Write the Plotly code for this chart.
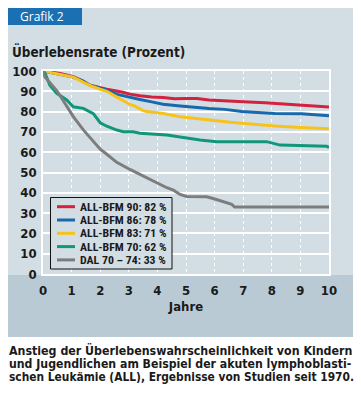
import plotly.graph_objects as go

# ---- data ----
years_bfm90 = [0, 0.3, 0.6, 1.06, 1.4, 1.64, 2.0, 2.23, 2.8, 3.04, 3.39, 3.8, 4.2, 4.6, 5.0, 5.38, 5.8, 6.36, 6.54, 7.0, 7.76, 8.4, 9.04, 9.5, 10]
surv_bfm90 = [100, 99.5, 98.8, 97.2, 95, 93, 91.8, 91, 89.5, 88.6, 87.8, 87.2, 87, 86.3, 86.5, 86.5, 85.7, 85.2, 84.9, 84.8, 84.4, 83.8, 82.9, 82.6, 82.3]

years_bfm86 = [0, 0.3, 0.6, 1.06, 1.4, 1.64, 2.0, 2.23, 2.6, 3.04, 3.39, 3.8, 4.2, 4.8, 5.38, 5.8, 6.36, 6.54, 6.95, 7.5, 8.1, 9.04, 9.5, 10]
surv_bfm86 = [100, 99.2, 98.5, 97, 95, 93, 91.5, 90.6, 88.5, 86.9, 86, 84.8, 83.6, 82.8, 82, 81.5, 81.1, 80.8, 80, 79.6, 79.1, 79, 78.6, 78]

years_bfm83 = [0, 0.3, 0.6, 1.06, 1.4, 1.7, 2.0, 2.23, 2.6, 3.04, 3.2, 3.5, 3.63, 4.2, 4.79, 5.38, 6.0, 6.54, 7.2, 8.1, 9.0, 10]
surv_bfm83 = [100, 99.2, 98.4, 97, 94.5, 92.5, 91, 90, 87, 83.5, 82.8, 80.5, 80, 79.1, 77.5, 76.7, 75.6, 74.7, 73.8, 72.9, 72.2, 71.6]

years_bfm70 = [0, 0.07, 0.24, 0.48, 0.83, 1.06, 1.41, 1.76, 2.0, 2.23, 2.58, 2.81, 3.15, 3.39, 4.33, 4.79, 5.49, 6.07, 7.0, 7.82, 8.29, 9.0, 9.92, 10]
surv_bfm70 = [100, 99, 93, 89, 85.7, 82.4, 81.6, 79, 74.5, 72.8, 70.9, 70.1, 70.1, 69.3, 68.5, 67.4, 66, 65.2, 65.2, 65.2, 63.5, 63.3, 62.9, 62.4]

years_dal = [0, 0.07, 0.5, 0.83, 1.06, 1.41, 2.0, 2.23, 2.58, 3.04, 3.39, 3.74, 3.97, 4.33, 4.56, 4.79, 5.02, 5.72, 5.95, 6.3, 6.6, 6.7, 10]
surv_dal = [100, 97, 90, 82.4, 77.5, 71, 61.5, 59, 55, 51.5, 49, 46.5, 45, 42.5, 41.3, 39.2, 38.2, 38, 37.2, 35.7, 34.3, 33, 33]

series_names = ["ALL-BFM 90: 82 %", "ALL-BFM 86: 78 %", "ALL-BFM 83: 71 %",
                "ALL-BFM 70: 62 %", "DAL 70 – 74: 33 %"]
series_x = [years_bfm90, years_bfm86, years_bfm83, years_bfm70, years_dal]
series_y = [surv_bfm90, surv_bfm86, surv_bfm83, surv_bfm70, surv_dal]
series_colors = ["#d3223f", "#1768ad", "#f6c31b", "#10977a", "#7d7d7d"]

x_ticks = list(range(0, 11))
y_ticks = list(range(0, 101, 10))

title_text = "Überlebensrate (Prozent)"
x_title = "Jahre"
badge_text = "Grafik 2"
caption_lines = [
    "Anstieg der Überlebenswahrscheinlichkeit von Kindern",
    "und Jugendlichen am Beispiel der akuten lymphoblasti-",
    "schen Leukämie (ALL), Ergebnisse von Studien seit 1970.",
]
caption_sizes = [12.3, 12.2, 11.85]

FONT = "DejaVu Sans Condensed"
FONT2 = "Roboto Condensed, DejaVu Sans Condensed"
INK = "#1a1a1a"
PANEL = "#d3dde4"
BAND = "#b9cad5"

W, H = 361, 396
L, R, T, B = 43, 32, 71, 122
pw, ph = W - L - R, H - T - B


def px(x):
    return (x - L) / pw


def py(y):
    return (H - B - y) / ph


fig = go.Figure()
for name, xs, ys, col in zip(series_names, series_x, series_y, series_colors):
    fig.add_trace(go.Scatter(x=xs, y=ys, mode="lines", name=name, showlegend=False,
                             line=dict(color=col, width=3), cliponaxis=False))

shapes = [
    dict(type="rect", xref="paper", yref="paper", x0=px(8), x1=px(353), y0=py(275), y1=py(8),
         fillcolor=PANEL, line_width=0, layer="below"),
    dict(type="rect", xref="paper", yref="paper", x0=px(8), x1=px(353), y0=py(337), y1=py(275),
         fillcolor=BAND, line_width=0, layer="below"),
    dict(type="rect", xref="paper", yref="paper", x0=px(8), x1=px(82), y0=py(25), y1=py(8),
         fillcolor="#1b6fb3", line_width=0, layer="below"),
    # legend box
    dict(type="rect", xref="paper", yref="paper", x0=px(50.5), x1=px(172), y0=py(269), y1=py(197.5),
         fillcolor=PANEL, line=dict(color="#111", width=1), layer="above"),
]

annotations = [
    dict(text=badge_text, xref="paper", yref="paper", x=px(18), y=py(16.5), xanchor="left",
         yanchor="middle", showarrow=False, font=dict(family="Open Sans, sans-serif", size=12, color="white")),
    dict(text=title_text, xref="paper", yref="paper", x=px(10), y=py(51.5),
         xanchor="left", yanchor="middle", showarrow=False,
         font=dict(family=FONT, size=13.4, weight="bold", color=INK)),
]
for i, (line, sz) in enumerate(zip(caption_lines, caption_sizes)):
    annotations.append(dict(text=line, xref="paper", yref="paper", x=px(7),
                            y=py(350.5 + i * 13), xanchor="left", yanchor="middle", showarrow=False,
                            font=dict(family=FONT, size=sz, weight="bold", color=INK)))

# manual legend (compact row spacing as in the reference)
for i, (name, col) in enumerate(zip(series_names, series_colors)):
    yc = 206.7 + i * 13.3
    shapes.append(dict(type="line", xref="paper", yref="paper", x0=px(57), x1=px(75),
                       y0=py(yc), y1=py(yc), line=dict(color=col, width=3), layer="above"))
    annotations.append(dict(text=name, xref="paper", yref="paper", x=px(77.5), y=py(yc),
                            xanchor="left", yanchor="middle", showarrow=False,
                            font=dict(family=FONT2, size=11.8, weight="bold", color=INK)))

fig.update_layout(
    width=W, height=H, margin=dict(l=L, r=R, t=T, b=B, autoexpand=False),
    paper_bgcolor="white", plot_bgcolor=PANEL,
    font=dict(family=FONT, color=INK),
    shapes=shapes, annotations=annotations,
    showlegend=False,
    xaxis=dict(range=[0, 10], tickvals=x_ticks, showgrid=True, gridcolor="white", griddash="dot",
               gridwidth=1, zeroline=False, showline=True, linecolor="white", linewidth=1.5, mirror=True,
               automargin=False,
               ticks="", tickfont=dict(family=FONT, size=13, weight="bold", color=INK), ticklabelstandoff=4,
               title=dict(text=x_title, font=dict(family=FONT, size=13, weight="bold", color=INK), standoff=5)),
    yaxis=dict(range=[0, 100], tickvals=y_ticks, showgrid=True, gridcolor="white", gridwidth=1.5,
               zeroline=False, showline=True, linecolor="white", linewidth=1.5, mirror=True,
               automargin=False,
               ticks="", tickfont=dict(family=FONT, size=13, weight="bold", color=INK), ticklabelstandoff=2),
)

fig.write_html("out.html", config={"displayModeBar": False},
               post_script="document.body.style.margin='0';")
